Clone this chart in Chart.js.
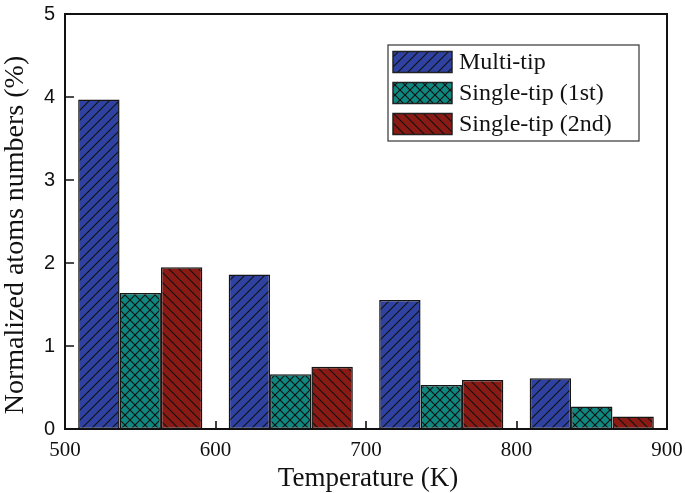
<!DOCTYPE html>
<html>
<head>
<meta charset="utf-8">
<script src="https://cdn.jsdelivr.net/npm/chart.js@4.4.1/dist/chart.umd.min.js"></script>
<style>
  html, body { margin: 0; padding: 0; background: #fff; }
  #wrap { width: 685px; height: 493px; position: relative; }
</style>
</head>
<body>
<div id="wrap"><canvas id="chart"></canvas></div>
<script>
const temperatures = [550, 650, 750, 850];
const multiTip = [3.97, 1.86, 1.555, 0.61];
const singleTip1st = [1.64, 0.66, 0.53, 0.27];
const singleTip2nd = [1.95, 0.75, 0.59, 0.15];
const xTicks = [500, 600, 700, 800, 900];
const yTicks = [0, 1, 2, 3, 4, 5];

const SERIF = "'Liberation Serif', 'Times New Roman', serif";
const SANS = "'Liberation Sans', Arial, sans-serif";

function makeHatch(fill, kinds) {
  const size = 10;
  const c = document.createElement("canvas");
  c.width = size;
  c.height = size;
  const g = c.getContext("2d");
  g.fillStyle = fill;
  g.fillRect(0, 0, size, size);
  g.strokeStyle = "#111";
  g.lineWidth = 1.1;
  kinds.forEach((kind) => {
    g.beginPath();
    if (kind === "/") {
      g.moveTo(-2, size + 2); g.lineTo(size + 2, -2);
      g.moveTo(-2, 2); g.lineTo(2, -2);
      g.moveTo(size - 2, size + 2); g.lineTo(size + 2, size - 2);
    } else {
      g.moveTo(-2, -2); g.lineTo(size + 2, size + 2);
      g.moveTo(-2, size - 2); g.lineTo(2, size + 2);
      g.moveTo(size - 2, -2); g.lineTo(size + 2, 2);
    }
    g.stroke();
  });
  return c;
}

const ctx = document.getElementById("chart").getContext("2d");

const SERIES = [
  { label: "Multi-tip", values: multiTip, pattern: ctx.createPattern(makeHatch("#2f42a2", ["/"]), "repeat") },
  { label: "Single-tip (1st)", values: singleTip1st, pattern: ctx.createPattern(makeHatch("#0f8880", ["/", "\\"]), "repeat") },
  { label: "Single-tip (2nd)", values: singleTip2nd, pattern: ctx.createPattern(makeHatch("#8a1a14", ["\\"]), "repeat") },
];

const framePlugin = {
  id: "frame",
  afterDraw(chart) {
    const { ctx: c, chartArea: a, scales } = chart;
    c.save();
    c.strokeStyle = "#111";
    c.lineWidth = 1.6;
    // inward ticks
    c.beginPath();
    scales.x.ticks.forEach((t) => {
      const px = Math.round(scales.x.getPixelForValue(t.value));
      c.moveTo(px, a.bottom);
      c.lineTo(px, a.bottom - 8);
    });
    scales.y.ticks.forEach((t) => {
      const py = Math.round(scales.y.getPixelForValue(t.value));
      c.moveTo(a.left, py);
      c.lineTo(a.left + 9, py);
    });
    c.stroke();
    c.lineWidth = 2;
    c.strokeRect(a.left, a.top, a.right - a.left, a.bottom - a.top);

    // axis titles
    c.fillStyle = "#111";
    c.textAlign = "center";
    c.textBaseline = "alphabetic";
    c.font = `27px ${SERIF}`;
    c.fillText("Temperature (K)", 368, 486);
    c.save();
    c.translate(23, 235);
    c.rotate(-Math.PI / 2);
    c.font = `28px ${SERIF}`;
    c.fillText("Normalized atoms numbers (%)", 0, 0);
    c.restore();

    // legend
    const box = { x: 388, y: 45, w: 251, h: 96 };
    c.lineWidth = 1.3;
    c.strokeStyle = "#444";
    c.strokeRect(box.x, box.y, box.w, box.h);
    c.font = `24px ${SERIF}`;
    c.textAlign = "left";
    c.textBaseline = "middle";
    chart.data.datasets.forEach((ds, i) => {
      const cy = 62 + i * 31;
      c.fillStyle = ds.backgroundColor;
      c.fillRect(393, cy - 10.5, 59, 21);
      c.lineWidth = 1.5;
      c.strokeStyle = "#222";
      c.strokeRect(393, cy - 10.5, 59, 21);
      c.fillStyle = "#111";
      c.fillText(ds.label, 459, cy + 1);
    });
    c.restore();
  },
};

new Chart(ctx, {
  type: "bar",
  data: {
    datasets: SERIES.map((s) => ({
      label: s.label,
      data: temperatures.map((t, i) => ({ x: t, y: s.values[i] })),
      backgroundColor: s.pattern,
      borderColor: "#151515",
      borderWidth: 1.5,
      borderSkipped: false,
      barPercentage: 1,
      categoryPercentage: 0.825,
    })),
  },
  options: {
    responsive: true,
    maintainAspectRatio: false,
    animation: false,
    layout: { padding: { top: 14, right: 18, left: 0, bottom: 0 } },
    plugins: {
      legend: { display: false },
      tooltip: { enabled: false },
    },
    scales: {
      x: {
        type: "linear",
        min: 500,
        max: 900,
        offset: false,
        afterBuildTicks: (scale) => { scale.ticks = xTicks.map((v) => ({ value: v })); },
        afterFit: (scale) => {
          scale.height = 64;
          scale.paddingLeft = 0;
          scale.paddingRight = 0;
        },
        grid: { display: false, drawTicks: false },
        border: { display: false },
        ticks: {
          padding: 9,
          color: "#111",
          font: { family: SERIF, size: 21 },
        },
      },
      y: {
        min: 0,
        max: 5,
        afterBuildTicks: (scale) => { scale.ticks = yTicks.map((v) => ({ value: v })); },
        afterFit: (scale) => {
          scale.width = 65;
          scale.paddingTop = 0;
          scale.paddingBottom = 0;
        },
        grid: { display: false, drawTicks: false },
        border: { display: false },
        ticks: {
          padding: 10,
          color: "#111",
          font: { family: SANS, size: 20 },
        },
      },
    },
  },
  plugins: [framePlugin],
});
</script>
</body>
</html>
